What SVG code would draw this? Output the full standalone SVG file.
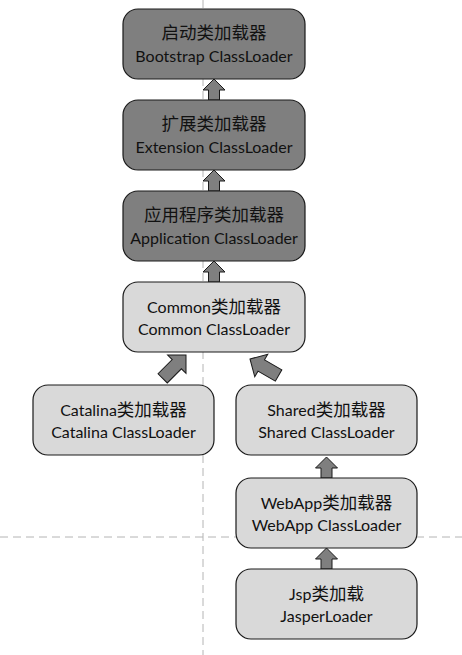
<svg xmlns="http://www.w3.org/2000/svg" width="462" height="655" viewBox="0 0 462 655">
<style>
.guide{stroke:#b4b4b4;stroke-width:1;stroke-dasharray:8,5;fill:none}
.dark{fill:#7f7f7f;stroke:#1a1a1a;stroke-width:1.2}
.light{fill:#d9d9d9;stroke:#1a1a1a;stroke-width:1.2}
.arrow{fill:#7f7f7f;stroke:#1a1a1a;stroke-width:1}
text{font-family:"Lato","Noto Sans CJK SC",sans-serif;font-size:16px;fill:#111;text-anchor:middle}
.cjk{font-family:"Noto Sans CJK SC",sans-serif;font-size:17.5px}
</style>
<defs>
<polygon id="up" points="0,0 11,11 5.5,11 5.5,21 -5.5,21 -5.5,11 -11,11"/>
<polygon id="diag" points="0,0 13,13 6.5,13 6.5,33 -6.5,33 -6.5,13 -13,13"/>
</defs>
<g id="guides">
<line class="guide" x1="203" y1="0" x2="203" y2="655"/>
<line class="guide" x1="0" y1="537" x2="462" y2="537"/>
</g>
<g id="connectors">
<use href="#up" class="arrow" x="214" y="79"/>
<use href="#up" class="arrow" x="214" y="170"/>
<use href="#up" class="arrow" x="214" y="261"/>
<use href="#up" class="arrow" x="326.5" y="457"/>
<use href="#up" class="arrow" x="326.5" y="548"/>
<use href="#diag" class="arrow" transform="translate(186,355) rotate(45)"/>
<use href="#diag" class="arrow" transform="translate(250,359) rotate(-60)"/>
</g>
<g id="bootstrap">
<rect class="dark" x="123" y="9" width="182" height="70" rx="15"/>
<text x="214" y="39"><tspan class="cjk">启动类加载器</tspan></text>
<text x="214" y="62">Bootstrap ClassLoader</text>
</g>
<g id="extension">
<rect class="dark" x="123" y="100" width="182" height="70" rx="15"/>
<text x="214" y="130"><tspan class="cjk">扩展类加载器</tspan></text>
<text x="214" y="153">Extension ClassLoader</text>
</g>
<g id="application">
<rect class="dark" x="123" y="191" width="182" height="70" rx="15"/>
<text x="214" y="221"><tspan class="cjk">应用程序类加载器</tspan></text>
<text x="214" y="244">Application ClassLoader</text>
</g>
<g id="common">
<rect class="light" x="123" y="282" width="182" height="70" rx="15"/>
<text x="214" y="313">Common<tspan class="cjk">类加载器</tspan></text>
<text x="214" y="335">Common ClassLoader</text>
</g>
<g id="catalina">
<rect class="light" x="33" y="385" width="181" height="70" rx="15"/>
<text x="123.5" y="416">Catalina<tspan class="cjk">类加载器</tspan></text>
<text x="123.5" y="438">Catalina ClassLoader</text>
</g>
<g id="shared">
<rect class="light" x="236" y="385" width="181" height="70" rx="15"/>
<text x="326.5" y="416">Shared<tspan class="cjk">类加载器</tspan></text>
<text x="326.5" y="438">Shared ClassLoader</text>
</g>
<g id="webapp">
<rect class="light" x="236" y="478" width="181" height="70" rx="15"/>
<text x="326.5" y="509">WebApp<tspan class="cjk">类加载器</tspan></text>
<text x="326.5" y="531">WebApp ClassLoader</text>
</g>
<g id="jsp">
<rect class="light" x="236" y="569" width="181" height="70" rx="15"/>
<text x="326.5" y="600">Jsp<tspan class="cjk">类加载</tspan></text>
<text x="326.5" y="622">JasperLoader</text>
</g>
</svg>
